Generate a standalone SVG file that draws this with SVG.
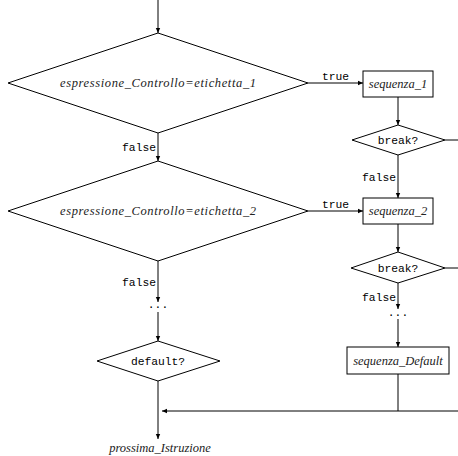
<svg xmlns="http://www.w3.org/2000/svg" width="458" height="456" viewBox="0 0 458 456">
<style>
.s{fill:none;stroke:#000;stroke-width:1}
.n{fill:#fff;stroke:#000;stroke-width:1}
.it{font-family:"Liberation Serif",serif;font-style:italic;font-size:12.5px;fill:#222;text-anchor:middle}
.tt{font-family:"Liberation Mono",monospace;font-size:11.3px;fill:#000}
.c{text-anchor:middle}
.r{text-anchor:end}
</style>
<defs>
<marker id="a" markerWidth="6" markerHeight="6" refX="5" refY="3" orient="auto" markerUnits="userSpaceOnUse">
<path d="M0,0.8 L5,3 L0,5.2 z" fill="#000"/>
</marker>
</defs>
<rect width="458" height="456" fill="#fff"/>
<g id="connectors" class="s">
<line x1="158" y1="0" x2="158" y2="33" marker-end="url(#a)"/>
<line x1="308" y1="83" x2="363" y2="83" marker-end="url(#a)"/>
<line x1="158" y1="133" x2="158" y2="161" marker-end="url(#a)"/>
<line x1="398" y1="97" x2="398" y2="125" marker-end="url(#a)"/>
<line x1="445" y1="140" x2="458" y2="140"/>
<line x1="398" y1="155" x2="398" y2="198" marker-end="url(#a)"/>
<line x1="308" y1="211" x2="363" y2="211" marker-end="url(#a)"/>
<line x1="398" y1="224" x2="398" y2="252" marker-end="url(#a)"/>
<line x1="445" y1="268" x2="458" y2="268"/>
<line x1="158" y1="261" x2="158" y2="302" marker-end="url(#a)"/>
<line x1="158" y1="312" x2="158" y2="341" marker-end="url(#a)"/>
<line x1="398" y1="283" x2="398" y2="309" marker-end="url(#a)"/>
<line x1="398" y1="319" x2="398" y2="347" marker-end="url(#a)"/>
<line x1="398" y1="374" x2="398" y2="411"/>
<line x1="458" y1="411" x2="162" y2="411" marker-end="url(#a)"/>
<line x1="158" y1="381" x2="158" y2="439" marker-end="url(#a)"/>
</g>
<g id="labels">
<text class="tt" x="322" y="80">true</text>
<text class="tt" x="322" y="208">true</text>
<text class="tt r" x="156" y="151">false</text>
<text class="tt r" x="156" y="286">false</text>
<text class="tt r" x="396" y="181">false</text>
<text class="tt r" x="396" y="301">false</text>
<text class="tt c" x="158" y="308">...</text>
<text class="tt c" x="398" y="316">...</text>
</g>
<g id="d1">
<polygon class="n" points="158,33 308,83 158,133 8,83"/>
<text class="it" x="158" y="87" font-size="13" textLength="196" lengthAdjust="spacing">espressione_Controllo=etichetta_1</text>
</g>
<g id="b1">
<rect class="n" x="363" y="71" width="70" height="26"/>
<text class="it" x="398" y="88">sequenza_1</text>
</g>
<g id="k1">
<polygon class="n" points="398,125 445,140 398,155 352,140"/>
<text class="tt c" x="398" y="144">break?</text>
</g>
<g id="d2">
<polygon class="n" points="158,161 308,211 158,261 8,211"/>
<text class="it" x="158" y="215" font-size="13" textLength="196" lengthAdjust="spacing">espressione_Controllo=etichetta_2</text>
</g>
<g id="b2">
<rect class="n" x="363" y="198" width="70" height="26"/>
<text class="it" x="398" y="215">sequenza_2</text>
</g>
<g id="k2">
<polygon class="n" points="398,252 445,268 398,283 351,268"/>
<text class="tt c" x="398" y="272">break?</text>
</g>
<g id="def">
<polygon class="n" points="158,341 220,361 158,381 97,361"/>
<text class="tt c" x="158" y="365">default?</text>
</g>
<g id="bd">
<rect class="n" x="347" y="347" width="102" height="27"/>
<text class="it" x="398" y="365">sequenza_Default</text>
</g>
<g id="next">
<text class="it" x="160" y="452" font-size="12">prossima_Istruzione</text>
</g>
</svg>
